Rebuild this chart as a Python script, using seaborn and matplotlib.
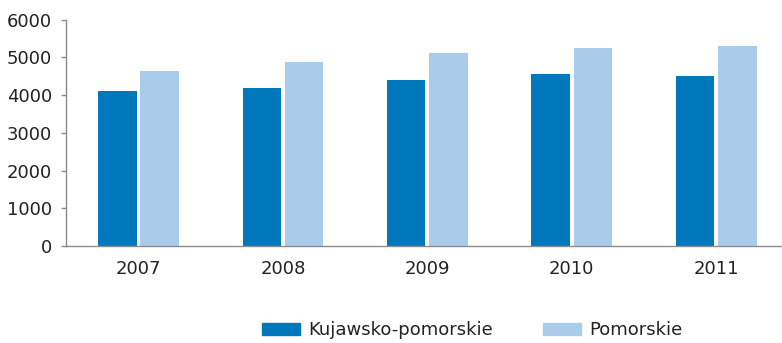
import matplotlib
matplotlib.use("Agg")
import matplotlib.pyplot as plt
import seaborn as sns
import pandas as pd

years = ["2007", "2008", "2009", "2010", "2011"]
kujawsko_pomorskie = [4100, 4200, 4390, 4550, 4520]
pomorskie = [4650, 4890, 5110, 5240, 5290]
regions = ["Kujawsko-pomorskie", "Pomorskie"]
colors = ["#0079BC", "#AACCEB"]
y_ticks = [0, 1000, 2000, 3000, 4000, 5000, 6000]

df = pd.DataFrame({
    "rok": years * 2,
    "wartosc": kujawsko_pomorskie + pomorskie,
    "region": [regions[0]] * len(years) + [regions[1]] * len(years),
})

sns.set_style("white")
plt.rcParams["font.family"] = ["DejaVu Sans"]
text_color = "#222222"
axis_color = "#8c8c8c"

fig = plt.figure(figsize=(7.82, 3.43), dpi=100)
ax = fig.add_axes([0.0844, 0.2828, 0.9156, 0.6598])

sns.barplot(data=df, x="rok", y="wartosc", hue="region", hue_order=regions,
            palette=colors, saturation=1, width=0.586, gap=0.09, linewidth=0,
            legend=False, ax=ax)

ax.set_ylim(0, 6000)
ax.set_xlim(-0.502, 4.456)
ax.set_yticks(y_ticks)
ax.set_yticklabels([str(t) for t in y_ticks])
ax.set_xlabel("")
ax.set_ylabel("")

for side in ["top", "right"]:
    ax.spines[side].set_visible(False)
for side in ["left", "bottom"]:
    ax.spines[side].set_color(axis_color)
    ax.spines[side].set_linewidth(1.0)

ax.tick_params(axis="y", direction="out", length=3.6, width=1.0,
               color=axis_color, pad=6.5, labelsize=13, labelcolor=text_color,
               left=True)
ax.tick_params(axis="x", length=0, pad=10, labelsize=13, labelcolor=text_color)

handles = [plt.Rectangle((0, 0), 1, 1, color=c) for c in colors]
fig.legend(handles, regions, loc="center", bbox_to_anchor=(0.604, 0.038),
           ncol=2, frameon=False, fontsize=13, labelcolor=text_color,
           handlelength=2.09, handleheight=0.65, handletextpad=0.46,
           columnspacing=2.77)

fig.savefig("out.png", dpi=100)
